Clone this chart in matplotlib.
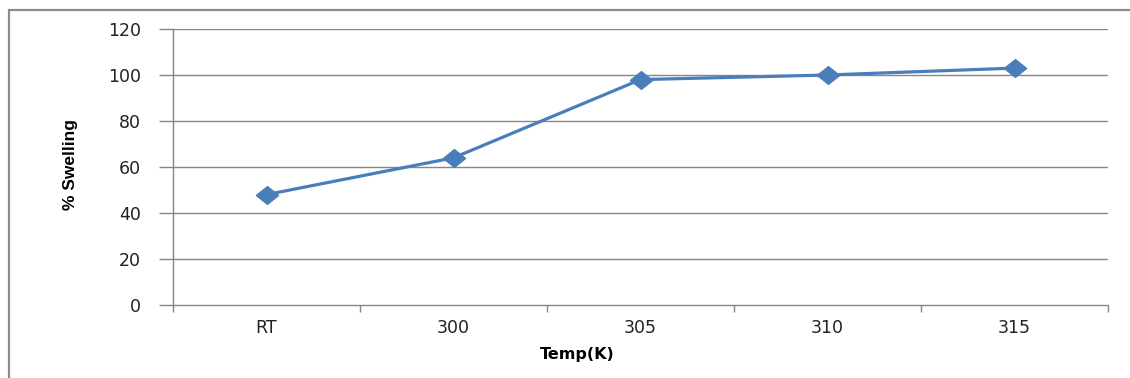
import matplotlib
matplotlib.use("Agg")
import matplotlib.pyplot as plt
from matplotlib.patches import Rectangle
from matplotlib.path import Path

categories = ["RT", "300", "305", "310", "315"]
swelling = [48, 64, 98, 100, 103]
y_ticks = [0, 20, 40, 60, 80, 100, 120]

W, H = 1130, 378
fig = plt.figure(figsize=(W / 100, H / 100), dpi=100)
fig.patch.set_facecolor("white")

# outer chart frame (only left/top visible)
fig.patches.append(Rectangle((9 / W, -0.1), 1.5, (H - 10) / H + 0.1,
                             transform=fig.transFigure, fill=False,
                             edgecolor="#8c8c8c", linewidth=1.6))

left, right, top, bottom = 173, 1108, 29, 305
ax = fig.add_axes([left / W, 1 - bottom / H, (right - left) / W, (bottom - top) / H])

grid_c = "#868686"
x = list(range(len(categories)))
diamond = Path([(-1, 0), (0, 0.8), (1, 0), (0, -0.8), (-1, 0)],
               [Path.MOVETO, Path.LINETO, Path.LINETO, Path.LINETO, Path.CLOSEPOLY])
ax.plot(x, swelling, color="#4a7ebb", linewidth=2.3, marker=diamond,
        markersize=16, markerfacecolor="#4a7ebb", markeredgecolor="#4a7ebb", zorder=3)

ax.set_xlim(-0.5, len(categories) - 0.5)
ax.set_ylim(0, 120)
ax.set_yticks(y_ticks)
ax.set_yticklabels([str(v) for v in y_ticks], fontsize=12.5, family="DejaVu Sans",
                   color="#222222")
for v in y_ticks[1:]:
    ax.axhline(v, color=grid_c, linewidth=1.0, zorder=1)

ax.set_xticks([i - 0.5 for i in range(len(categories) + 1)], minor=False)
ax.set_xticklabels([""] * (len(categories) + 1))
ax.set_xticks(x, minor=True)
ax.set_xticklabels(categories, minor=True, fontsize=12.5, family="DejaVu Sans",
                   color="#222222")
ax.tick_params(axis="x", which="major", length=5, color=grid_c, width=1.0)
ax.tick_params(axis="x", which="minor", length=0, pad=10)
ax.tick_params(axis="y", length=10, color=grid_c, width=1.0, pad=13)

for s in ["top", "right"]:
    ax.spines[s].set_visible(False)
ax.spines["left"].set_color(grid_c)
ax.spines["bottom"].set_color(grid_c)
ax.spines["left"].set_linewidth(1.0)
ax.spines["bottom"].set_linewidth(1.0)

fig.text(71 / W, 1 - 165 / H, "% Swelling", rotation=90, ha="center", va="center",
         fontsize=12.5, fontweight="bold",
         family=["Liberation Sans Narrow", "Liberation Sans", "DejaVu Sans"])
fig.text(577 / W, 1 - 355 / H, "Temp(K)", ha="center", va="center",
         fontsize=11.5, fontweight="bold", family="DejaVu Sans")

fig.savefig("out.png", dpi=100, facecolor="white")
